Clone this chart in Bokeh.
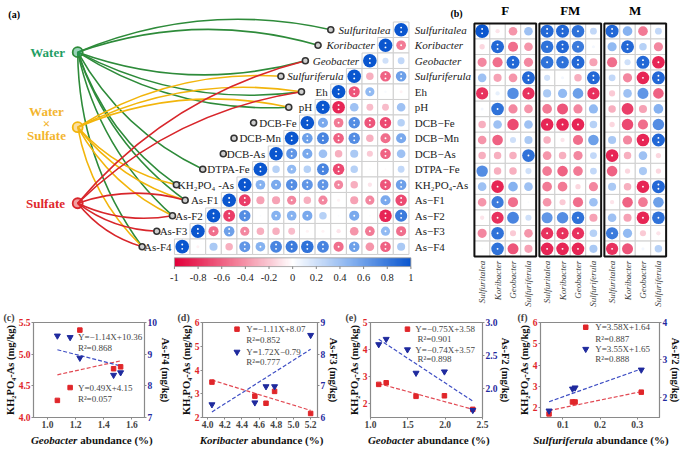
import numpy as np
from bokeh.plotting import figure
from bokeh.models import Range1d, LinearAxis, FixedTicker, LinearColorMapper
from bokeh.layouts import column, row
from bokeh.core.properties import value
from bokeh.embed import file_html
from bokeh.resources import INLINE

SERIF = "Liberation Serif"

# ---------------- data: panel (a) ----------------
variables = ["Sulfuritalea", "Koribacter", "Geobacter", "Sulfuriferula", "Eh", "pH",
             "DCB-Fe", "DCB-Mn", "DCB-As", "DTPA-Fe", "KH₂PO₄ -As",
             "As-F1", "As-F2", "As-F3", "As-F4"]
right_labels = ["Sulfuritalea", "Koribacter", "Geobacter", "Sulfuriferula", "Eh", "pH",
                "DCB−Fe", "DCB−Mn", "DCB−As", "DTPA−Fe", "KH₂PO₄-As",
                "As−F1", "As−F2", "As−F3", "As−F4"]
n_italic = 4
# row i: correlation of variable i with variables i, i-1, ..., 0
corr_a = [
    [1],
    [1, -0.5],
    [1, 0.2, 0.25],
    [1, -0.3, -0.6, 0.6],
    [1, -0.65, 0.45, 0.03, -0.05],
    [1, -0.85, 0.4, -0.25, -0.25, 0.4],
    [1, 0.55, -0.5, 0.7, -0.65, -0.7, 0.3],
    [1, 0.6, 0.75, -0.6, 0.7, -0.3, -0.55, 0.55],
    [1, 0.65, 0.55, 0.4, -0.3, 0.35, -0.2, -0.6, 0.4],
    [1, 0.3, 0.45, 0.3, 0.75, -0.7, 0.3, 0.02, -0.02, 0.25],
    [1, 0.5, 0.55, 0.7, 0.65, 0.65, -0.45, -0.3, -0.1, -0.65, 0.6],
    [1, -0.75, -0.35, -0.35, -0.45, -0.3, -0.45, -0.05, -0.35, -0.45, 0.55, -0.7],
    [1, -0.75, 0.7, 0.02, 0.5, 0.5, 0.55, 0.3, 0.02, 0.55, 0.02, -0.85, 0.8],
    [1, -0.55, 0.6, -0.45, -0.3, -0.3, -0.25, -0.05, -0.05, -0.1, -0.4, -0.5, 0.45, -0.55],
    [1, -0.05, 0.35, -0.3, 0.65, 0.5, 0.75, 0.8, 0.85, 0.75, -0.55, 0.6, -0.4, -0.6, 0.35],
]
factors = ["Water", "Water×Sulfate", "Sulfate"]
links = {
    "Water": [0, 1, 2, 4, 5, 9, 10, 11, 12, 14],
    "Water×Sulfate": [3, 4, 5, 10, 11, 12, 14],
    "Sulfate": [2, 4, 11, 12, 13, 14],
}
cbar_ticks = [-1, -0.8, -0.6, -0.4, -0.2, 0, 0.2, 0.4, 0.6, 0.8, 1]
cbar_labels = ["-1", "-0.8", "-0.6", "-0.4", "-0.2", "0", "0.2", "0.4", "0.6", "0.8", "1"]

# ---------------- data: panel (b) ----------------
groups = ["F", "FM", "M"]
genera = ["Sulfuritalea", "Koribacter", "Geobacter", "Sulfuriferula"]
corr_b = [
    [1.0, -0.1, -0.4, 0.4, 0.9, 0.9, 0.85, 0.25, 0.9, 0.5, -0.5, 0.25],
    [-0.15, 0.9, -0.55, -0.4, 0.85, 0.9, 0.8, 0.05, 0.45, 0.9, 0.3, -0.45],
    [-0.45, -0.55, 0.9, -0.45, 0.85, 0.85, 0.9, -0.35, -0.55, 0.2, 0.9, -0.85],
    [0.4, -0.35, -0.4, 0.9, 0.2, 0.05, -0.3, 0.9, 0.25, -0.45, -0.85, 0.9],
    [-0.8, 0.1, 0.7, -0.8, 0.35, 0.45, 0.6, -0.8, -0.2, 0.4, 0.65, -0.6],
    [0.05, 0.85, -0.45, -0.4, -0.5, -0.65, -0.45, 0.45, -0.3, -0.75, -0.35, 0.5],
    [-0.3, 0.4, -0.7, 0.4, -0.85, -0.85, -0.85, 0.3, -0.15, -0.7, -0.55, 0.7],
    [-0.4, -0.6, 0.2, 0.35, -0.3, -0.1, -0.55, 0.6, 0.35, -0.45, -0.85, 0.9],
    [-0.3, -0.3, -0.3, 0.85, -0.4, -0.3, -0.45, 0.25, -0.85, -0.3, 0.4, -0.15],
    [0.7, -0.3, -0.3, 0.2, -0.5, -0.6, -0.5, 0.25, -0.6, -0.15, 0.35, -0.15],
    [0.4, -0.85, 0.5, 0.4, -0.5, -0.5, -0.15, -0.45, 0.35, -0.3, -0.85, 0.9],
    [-0.4, 0.8, -0.55, 0.02, -0.4, -0.2, -0.55, 0.4, -0.1, -0.6, -0.5, 0.6],
    [-0.1, -0.8, 0.75, 0.2, 0.65, 0.7, 0.85, -0.35, 0.4, -0.35, -0.85, 0.85],
    [-0.45, 0.85, -0.2, -0.4, -0.8, -0.8, -0.8, 0.3, 0.8, 0.45, -0.2, -0.1],
    [0.02, 0.85, -0.65, -0.35, -0.85, -0.85, -0.85, 0.35, -0.8, -0.65, 0.05, 0.3],
]

# ---------------- data: panels (c)-(f) ----------------
c_abund = [1.07, 1.23, 1.47, 1.52]
c_kh = [4.27, 5.38, 4.77, 4.80]
c_f = [9.58, 8.88, 8.34, 8.42]
d_abund = [4.05, 4.55, 4.68, 4.78, 5.20]
d_kh = [3.49, 2.90, 2.60, 3.10, 2.17]
d_f = [6.41, 6.47, 6.98, 6.98, 8.60]
e_abund = [1.11, 1.21, 1.61, 1.99, 2.37]
e_kh = [2.72, 2.78, 2.28, 2.30, 1.80]
e_f = [2.67, 2.75, 2.24, 2.26, 1.68]
f_abund = [0.063, 0.126, 0.133, 0.311]
f_kh = [1.71, 2.27, 2.27, 2.73]
f_f = [1.63, 2.22, 2.25, 2.73]

fit_red = {"c": (0.49, 4.15, "Y=0.49X+4.15", "R²=0.057"),
           "d": (-1.11, 8.07, "Y=−1.11X+8.07", "R²=0.852"),
           "e": (-0.75, 3.58, "Y=−0.75X+3.58", "R²=0.901"),
           "f": (3.58, 1.64, "Y=3.58X+1.64", "R²=0.887")}
fit_blue = {"c": (-1.14, 10.36, "Y=−1.14X+10.36", "R²=0.868"),
            "d": (1.72, -0.79, "Y=1.72X−0.79", "R²=0.777"),
            "e": (-0.74, 3.57, "Y=−0.74X+3.57", "R²=0.898"),
            "f": (3.55, 1.65, "Y=3.55X+1.65", "R²=0.888")}
x_genus = ["Geobacter", "Koribacter", "Geobacter", "Sulfuriferula"]

# ---------------- colours ----------------
stops = [(-1, "#E2003A"), (-0.5, "#F27A95"), (0, "#FFFFFF"), (0.5, "#86B2F0"), (1, "#0A56CF")]


def h2r(h):
    return [int(h[i:i + 2], 16) for i in (1, 3, 5)]


palette = []
for v in np.linspace(-1, 1, 201):
    for (a, ca), (b, cb) in zip(stops[:-1], stops[1:]):
        if a <= v <= b:
            t = (v - a) / (b - a)
            c1, c2 = h2r(ca), h2r(cb)
            rgb = [round(c1[j] + (c2[j] - c1[j]) * t) for j in range(3)]
            palette.append("#%02x%02x%02x" % tuple(rgb))
            break
mapper = LinearColorMapper(palette=palette, low=-1, high=1)


def pal(v):
    return palette[int(round((v + 1) * 100))]


GREEN, GOLD, RED = "#2E8B3A", "#F2B50C", "#D8262B"
factor_line = {"Water": GREEN, "Water×Sulfate": GOLD, "Sulfate": RED}
factor_text = {"Water": "#1F9E64", "Water×Sulfate": "#F3B52E", "Sulfate": "#E0282C"}

# ---------------- top figure (a) + (b) ----------------
S = 684 / 700.0
TOP_H = 308
top = figure(width=684, height=TOP_H, x_range=Range1d(0, 700), y_range=Range1d(316, 0),
             toolbar_location=None, output_backend="svg", min_border=0, title=None,
             x_axis_type=None, y_axis_type=None)
top.grid.visible = False
top.outline_line_color = None

A_X0, CELL, A_Y0, ROWH = 178, 16, 30, 15.9
node_x = [338, 325, 312, 287, 308, 295, 259, 239, 228, 207, 180, 189, 176, 160, 145]
factor_xy = {"Water": (79, 53), "Water×Sulfate": (79, 130), "Sulfate": (79, 208)}

# curves
for f in factors:
    x0, y0 = factor_xy[f]
    xs0, ys0, xs1, ys1, cxs, cys = [], [], [], [], [], []
    for i in links[f]:
        x1, y1 = node_x[i], A_Y0 + ROWH * i
        dx, dy = x1 - x0, y1 - y0
        s = 1 if dy <= 0 else -1
        xm, ym = (x0 + x1) / 2, (y0 + y1) / 2
        xs0.append(x0); ys0.append(y0); xs1.append(x1); ys1.append(y1)
        cxs.append(xm + s * 0.16 * dy); cys.append(ym - s * 0.16 * dx)
    top.quadratic(x0=xs0, y0=ys0, x1=xs1, y1=ys1, cx=cxs, cy=cys,
                  line_color=factor_line[f], line_width=1.6)

# cells of (a)
cx, cy, cr = [], [], []
for i, rv in enumerate(corr_a):
    for k, r in enumerate(rv):
        c = 14 - i + k
        cx.append(A_X0 + CELL * (c + 0.5)); cy.append(A_Y0 + ROWH * i); cr.append(r)
cr = np.array(cr)
top.rect(x=cx, y=cy, width=CELL, height=ROWH, fill_color="white",
         line_color="#cfcfcf", line_width=1)
top.scatter(x=cx, y=cy, size=list(14.0 * S * np.sqrt(np.abs(cr))),
            fill_color=[pal(v) for v in cr], line_color=None)


def star_dots(xs, ys, rs, hi, lo):
    dx, dy = [], []
    for x, y, r in zip(xs, ys, rs):
        if abs(r) >= hi:
            dx += [x, x]; dy += [y - 2.2, y + 2.2]
        elif abs(r) >= lo:
            dx.append(x); dy.append(y)
    top.scatter(x=dx, y=dy, size=1.9, fill_color="white", line_color=None)


star_dots(cx, cy, cr, 0.6, 0.45)

# left labels + target nodes
for i, name in enumerate(variables):
    xr = A_X0 + CELL * (14 - i) - 3
    top.text(x=[xr], y=[A_Y0 + ROWH * i], text=[name], text_font=value(SERIF),
             text_font_size="11px", text_align="right", text_baseline="middle",
             text_font_style="italic" if i < n_italic else "normal", text_color="#222")
top.scatter(x=node_x, y=[A_Y0 + ROWH * i for i in range(15)], size=6,
            fill_color="#d0d0d0", line_color="#333", line_width=1.6)

# right labels
for i, name in enumerate(right_labels):
    top.text(x=[424], y=[A_Y0 + ROWH * i], text=[name], text_font=value(SERIF),
             text_font_size="11px", text_align="left", text_baseline="middle",
             text_font_style="italic" if i < n_italic else "normal", text_color="#222")

# factor nodes and labels
for f in factors:
    x0, y0 = factor_xy[f]
    top.scatter(x=[x0], y=[y0], size=10, fill_color=factor_text[f], fill_alpha=0.45,
                line_color=factor_line[f], line_width=1.8)
top.text(x=[66], y=[53], text=["Water"], text_font=value(SERIF), text_font_size="13px",
         text_font_style="bold", text_align="right", text_baseline="middle",
         text_color=factor_text["Water"])
top.text(x=[47, 47, 47], y=[114, 126, 138], text=["Water", "×", "Sulfate"],
         text_font=value(SERIF), text_font_size="13px", text_font_style="bold",
         text_align="center", text_baseline="middle", text_color=factor_text["Water×Sulfate"])
top.text(x=[66], y=[208], text=["Sulfate"], text_font=value(SERIF), text_font_size="13px",
         text_font_style="bold", text_align="right", text_baseline="middle",
         text_color=factor_text["Sulfate"])

# colour bar
CB_X0, CB_W = 178, 242
top.image(image=[np.linspace(-1, 1, 240)[None, :]], x=CB_X0, y=264, dw=CB_W, dh=9,
          color_mapper=mapper)
top.rect(x=[CB_X0 + CB_W / 2], y=[268.5], width=CB_W, height=9, fill_color=None,
         line_color="#999", line_width=0.8)
tick_x = [CB_X0 + (t + 1) / 2 * CB_W for t in cbar_ticks]
top.segment(x0=tick_x, y0=[273] * 11, x1=tick_x, y1=[275.5] * 11, line_color="#666", line_width=0.8)
top.text(x=tick_x, y=[284] * 11, text=cbar_labels, text_font=value(SERIF),
         text_font_size="10.5px", text_align="center", text_baseline="middle", text_color="#222")

top.text(x=[8], y=[14], text=["(a)"], text_font=value(SERIF), text_font_size="10px",
         text_font_style="bold", text_baseline="middle")
top.text(x=[473], y=[13], text=["(b)"], text_font=value(SERIF), text_font_size="10px",
         text_font_style="bold", text_baseline="middle", text_align="right")

# panel (b)
B_X0, GSTEP, BCELL, B_Y0, BROWH = 485, 66.5, 15.8, 31.5, 15.95
bx, by, br = [], [], []
for i, rv in enumerate(corr_b):
    for j, r in enumerate(rv):
        g, k = divmod(j, 4)
        bx.append(B_X0 + g * GSTEP + BCELL * (k + 0.5)); by.append(B_Y0 + BROWH * i); br.append(r)
br = np.array(br)
top.rect(x=bx, y=by, width=BCELL, height=BROWH, fill_color="white",
         line_color="#cfcfcf", line_width=1)
top.scatter(x=bx, y=by, size=list(14.0 * S * np.sqrt(np.abs(br))),
            fill_color=[pal(v) for v in br], line_color=None)
star_dots(bx, by, br, 0.9, 0.8)
gx = [B_X0 + g * GSTEP + 2 * BCELL for g in range(3)]
top.rect(x=gx, y=[B_Y0 + BROWH * 7] * 3, width=4 * BCELL, height=15 * BROWH,
         fill_color=None, line_color="#111", line_width=2)
top.text(x=gx, y=[10] * 3, text=groups, text_font=value(SERIF), text_font_size="13px",
         text_font_style="bold", text_align="center", text_baseline="middle")
lab_x, lab_t = [], []
for g in range(3):
    for k, gn in enumerate(genera):
        lab_x.append(B_X0 + g * GSTEP + BCELL * (k + 0.5)); lab_t.append(gn)
top.text(x=lab_x, y=[267] * 12, text=lab_t, angle=np.pi / 2, text_font=value(SERIF),
         text_font_size="9px", text_font_style="italic", text_align="right",
         text_baseline="middle", text_color="#444")


# ---------------- bottom panels ----------------
def text_w(s, size, bold=False):
    w = 0.0
    for ch in s:
        if ch in "iljtfr.,:;'|!() -":
            w += 0.3
        elif ch in "mwMW%":
            w += 0.9
        elif ch.isupper():
            w += 0.68
        else:
            w += 0.5
    return w * size * (1.05 if bold else 1.0)


KRED, KBLUE = "#E0262A", "#1F2A9E"
STRIP_H = 14
BOT_H = 446 - TOP_H - STRIP_H
BT, BB = 14, 15
widths = [174, 168, 172, 170]
b_left = [33, 28, 28, 26]
b_right = [27, 24, 30, 24]


def panel(idx, tag, key, right_name, xr, yl, yr, xt, xtl, ylt, yltl, yrt, yrtl, xs, kh, ff, leg):
    w, bl, br_ = widths[idx], b_left[idx], b_right[idx]
    p = figure(width=w, height=BOT_H, x_range=Range1d(*xr), y_range=Range1d(*yl),
               toolbar_location=None, output_backend="svg", title=tag, min_border_left=bl,
               min_border_right=br_, min_border_top=BT, min_border_bottom=BB)
    p.title.align = "left"
    p.title.offset = -(bl - 3)
    p.title.standoff = 0
    p.title.text_font = SERIF
    p.title.text_font_size = "10px"
    p.title.text_font_style = "bold"
    p.extra_y_ranges = {"r": Range1d(*yr)}
    p.grid.visible = False
    p.outline_line_color = "#8a8a8a"
    p.outline_line_width = 1.2
    ra = LinearAxis(y_range_name="r")
    p.add_layout(ra, "right")
    p.xaxis.ticker = FixedTicker(ticks=xt)
    p.xaxis.major_label_overrides = dict(zip(xt, xtl))
    p.yaxis[0].ticker = FixedTicker(ticks=ylt)
    p.yaxis[0].major_label_overrides = dict(zip(ylt, yltl))
    ra.ticker = FixedTicker(ticks=yrt)
    ra.major_label_overrides = dict(zip(yrt, yrtl))
    for ax in [p.xaxis[0], p.yaxis[0], ra]:
        ax.major_label_text_font = SERIF
        ax.major_label_text_font_style = "bold"
        ax.major_label_text_font_size = "9.5px"
        ax.axis_line_color = "#8a8a8a"
        ax.major_tick_line_color = "#8a8a8a"
        ax.minor_tick_line_color = None
        ax.major_tick_out = 2
        ax.major_tick_in = 0
        ax.major_label_standoff = 1
        ax.axis_label_text_font = SERIF
        ax.axis_label_text_font_style = "bold"
        ax.axis_label_text_font_size = "10.5px"
        ax.axis_label_standoff = 0
        ax.axis_label_text_color = "#111"
    p.yaxis[0].major_label_text_color = KRED
    ra.major_label_text_color = KBLUE
    p.yaxis[0].axis_label = "KH₂PO₄-As (mg/kg)"
    ra.axis_label = right_name + " (mg/kg)"

    a_r, b_r, eq_r, r2_r = fit_red[key]
    a_b, b_b, eq_b, r2_b = fit_blue[key]
    lx = [min(xs), max(xs)]
    p.line(lx, [a_r * v + b_r for v in lx], line_color="#E24A54", line_dash="4 2", line_width=1.2)
    p.line(lx, [a_b * v + b_b for v in lx], line_color="#3F4FC4", line_dash="4 2", line_width=1.2,
           y_range_name="r")
    p.scatter(xs, kh, marker="square", size=4.5, color=KRED)
    p.scatter(xs, ff, marker="inverted_triangle", size=6, color=KBLUE, y_range_name="r")

    def fx(f):
        return xr[0] + f * (xr[1] - xr[0])

    def fyl(f):
        return yl[1] - f * (yl[1] - yl[0])

    def fyr(f):
        return yr[1] - f * (yr[1] - yr[0])

    (rmx, rmy, rtx, rty, r2x, r2y), (bmx, bmy, btx, bty, b2x, b2y) = leg
    p.scatter([fx(rmx)], [fyl(rmy)], marker="square", size=4.5, color=KRED)
    p.scatter([fx(bmx)], [fyr(bmy)], marker="inverted_triangle", size=6, color=KBLUE,
              y_range_name="r")
    p.text(x=[fx(rtx), fx(r2x)], y=[fyl(rty), fyl(r2y)], text=[eq_r, r2_r],
           text_font=value(SERIF), text_font_size="9px", text_color="#444",
           text_baseline="middle", text_align="left")
    p.text(x=[fx(btx), fx(b2x)], y=[fyr(bty), fyr(b2y)], text=[eq_b, r2_b],
           text_font=value(SERIF), text_font_size="9px", text_color="#444",
           text_baseline="middle", text_align="left", y_range_name="r")
    return p


pc = panel(0, "(c)", "c", "As-F4", (0.9, 1.69), (4.0, 5.5), (7, 10),
           [1.0, 1.2, 1.4, 1.6], ["1.0", "1.2", "1.4", "1.6"],
           [4.0, 4.5, 5.0, 5.5], ["4.0", "4.5", "5.0", "5.5"],
           [7, 8, 9, 10], ["7", "8", "9", "10"], c_abund, c_kh, c_f,
           ((0.33, 0.685, 0.40, 0.685, 0.40, 0.80), (0.33, 0.156, 0.40, 0.156, 0.40, 0.27)))
pd_ = panel(1, "(d)", "d", "As-F3", (3.94, 5.28), (2, 6), (6, 9),
            [4.0, 4.2, 4.4, 4.6, 4.8, 5.0, 5.2], ["4.0", "4.2", "4.4", "4.6", "4.8", "5.0", "5.2"],
            [2, 3, 4, 5, 6], ["2", "3", "4", "5", "6"],
            [6, 7, 8, 9], ["6", "7", "8", "9"], d_abund, d_kh, d_f,
            ((0.30, 0.07, 0.38, 0.07, 0.38, 0.18), (0.30, 0.31, 0.38, 0.31, 0.38, 0.42)))
pe = panel(2, "(e)", "e", "As-F2", (1.0, 2.5), (1.5, 5), (1.57, 3.0),
           [1.0, 1.5, 2.0, 2.5], ["1.0", "1.5", "2.0", "2.5"],
           [2, 3, 4, 5], ["2", "3", "4", "5"],
           [2.0, 2.5, 3.0], ["2.0", "2.5", "3.0"], e_abund, e_kh, e_f,
           ((0.33, 0.07, 0.40, 0.07, 0.42, 0.17), (0.33, 0.285, 0.40, 0.285, 0.42, 0.38)))
pf = panel(3, "(f)", "f", "As-F2", (0.04, 0.36), (1.54, 6), (1.45, 4),
           [0.1, 0.2, 0.3], ["0.1", "0.2", "0.3"],
           [2, 3, 4, 5, 6], ["2", "3", "4", "5", "6"],
           [2, 3, 4], ["2", "3", "4"], f_abund, f_kh, f_f,
           ((0.38, 0.05, 0.46, 0.05, 0.46, 0.17), (0.38, 0.28, 0.46, 0.28, 0.46, 0.38)))

# x-axis titles (italic genus + bold text) in a strip below the panels
strip = figure(width=684, height=STRIP_H, x_range=Range1d(0, 684), y_range=Range1d(0, STRIP_H),
               toolbar_location=None, output_backend="svg", min_border=0, title=None,
               x_axis_type=None, y_axis_type=None)
strip.grid.visible = False
strip.outline_line_color = None
rest = "abundance (%)"
gap = 3
gx_i, g_t = [], []
left = 0
for idx, gn in enumerate(x_genus):
    centre = left + b_left[idx] + (widths[idx] - b_left[idx] - b_right[idx]) / 2
    wi, wr = text_w(gn, 11, True), text_w(rest, 11, True)
    split = centre - (wi + wr + gap) / 2 + wi
    gx_i.append(split); g_t.append(gn)
    left += widths[idx]
strip.text(x=gx_i, y=[STRIP_H / 2] * 4, text=g_t, text_font=value(SERIF), text_font_size="11px",
           text_font_style="bold italic", text_align="right", text_baseline="middle",
           text_color="#111")
strip.text(x=[v + gap for v in gx_i], y=[STRIP_H / 2] * 4, text=[rest] * 4, text_font=value(SERIF),
           text_font_size="11px", text_font_style="bold", text_align="left",
           text_baseline="middle", text_color="#111")

layout = column(top, row(pc, pd_, pe, pf), strip)
open("out.html", "w").write(file_html(layout, INLINE))
